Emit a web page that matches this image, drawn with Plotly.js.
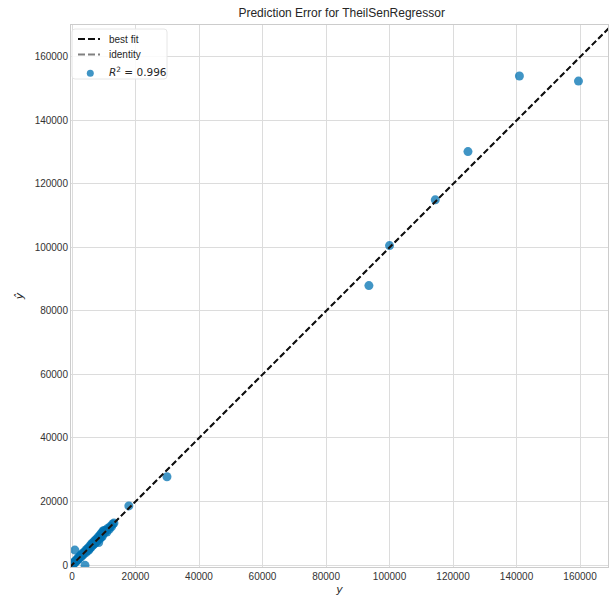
<!DOCTYPE html>
<html>
<head>
<meta charset="utf-8">
<script src="https://cdn.plot.ly/plotly-3.0.1.min.js"></script>
<style>html,body{margin:0;padding:0;background:#fff;}#chart{width:609px;height:599px;}</style>
</head>
<body>
<div id="chart"></div>
<script>
// Actual target values (y)
const yTrue = [120, 250, 400, 500, 650, 800, 900, 1000, 1100, 1300, 1500, 1600, 1800, 2000, 2100, 2300, 2500, 2700, 2900, 3000,
  3200, 3400, 3600, 3800, 4100, 4200, 4400, 4600, 4800, 5000, 5200, 5400, 5600, 5800, 6000, 6200, 6400, 6600, 6800, 7000,
  7200, 7400, 7600, 7800, 8000, 8200, 8400, 8600, 8800, 9000, 9200, 9400, 9600, 9800, 10000, 10300, 10600, 11000, 11300, 11700,
  12000, 12400, 12800, 13200, 17900, 29900, 93500, 100000, 114400, 124700, 140900, 159500];
// Predicted values (y-hat)
const yPred = [300, 150, 600, 350, 900, 700, 4700, 1200, 900, 1500, 1300, 1900, 1700, 2300, 1900, 2600, 2400, 2900, 2600, 3300,
  3100, 3700, 3300, 4000, -100, 4400, 3900, 4900, 4500, 5300, 4600, 5700, 5200, 6200, 5600, 6700, 6100, 7000, 6400, 7500,
  6800, 7900, 7200, 8200, 7600, 8800, 7100, 9100, 8300, 9700, 8700, 10200, 9100, 10600, 10900, 10100, 11000, 10400, 11600, 11200,
  12100, 12000, 12900, 13200, 18600, 27800, 88000, 100600, 115000, 130200, 154000, 152400];
// best-fit line (it coincides with the identity line)
const bestFitSlope = 1.0;
const bestFitIntercept = 0;
const legendLabels = ['best fit', 'identity', '<i>R</i><sup>2</sup> = 0.996'];
const xLimits = [-320, 168800];
const yLimits = [-630, 170070];
const xTicks = [0, 20000, 40000, 60000, 80000, 100000, 120000, 140000, 160000];
const yTicks = [0, 20000, 40000, 60000, 80000, 100000, 120000, 140000, 160000];

const lineX = [Math.min(xLimits[0], yLimits[0]), Math.max(xLimits[1], yLimits[1])];
const pointColor = '#0072B2';

const traces = [
  {
    x: yTrue, y: yPred, type: 'scatter', mode: 'markers', name: legendLabels[2], showlegend: false,
    marker: { color: pointColor, opacity: 0.75, size: 9, line: { width: 0 } }
  },
  {
    x: lineX, y: lineX, type: 'scatter', mode: 'lines', name: legendLabels[1], showlegend: false,
    line: { color: '#808080', width: 1.8, dash: '6px,3px' }
  },
  {
    x: lineX, y: lineX.map(v => bestFitSlope * v + bestFitIntercept), type: 'scatter', mode: 'lines',
    name: legendLabels[0], showlegend: false,
    line: { color: '#111111', width: 2, dash: '6px,3px' }
  }
];

const axisCommon = {
  showgrid: true, gridcolor: '#dcdcdc', gridwidth: 1, zeroline: false,
  showline: true, linecolor: '#cccccc', linewidth: 1, mirror: true,
  ticks: '', tickfont: { family: 'Liberation Sans, Arial, sans-serif', size: 10, color: '#333333' },
  tickmode: 'array'
};

// custom legend (pixel offsets from the plot's top-left corner)
const pix = { xref: 'paper', yref: 'paper', xsizemode: 'pixel', ysizemode: 'pixel', xanchor: 0, yanchor: 1 };
const legendShapes = [
  Object.assign({}, pix, { type: 'path',
    path: 'M 4,-4 L 93,-4 Q 96,-4 96,-7 L 96,-51 Q 96,-54 93,-54 L 4,-54 Q 1,-54 1,-51 L 1,-7 Q 1,-4 4,-4 Z',
    fillcolor: 'rgba(255,255,255,0.85)', line: { color: '#e6e6e6', width: 1 }, layer: 'above' }),
  Object.assign({}, pix, { type: 'line', x0: 7, x1: 29, y0: -14, y1: -14,
    line: { color: '#111111', width: 2, dash: '7px,3px' }, layer: 'above' }),
  Object.assign({}, pix, { type: 'line', x0: 7, x1: 29, y0: -29.5, y1: -29.5,
    line: { color: '#808080', width: 1.8, dash: '7px,3px' }, layer: 'above' }),
  Object.assign({}, pix, { type: 'circle', x0: 15.8, x1: 22.8, y0: -44.8, y1: -51.8,
    fillcolor: pointColor, opacity: 0.75, line: { width: 0 }, layer: 'above' })
];
const legFont = { family: 'Liberation Sans, Arial, sans-serif', size: 10, color: '#262626' };
const legendAnnotations = [
  { text: legendLabels[0], yshift: -14, font: legFont },
  { text: legendLabels[1], yshift: -29.5, font: legFont },
  { text: legendLabels[2], yshift: -46, font: { family: 'DejaVu Sans, sans-serif', size: 10.5, color: '#262626' } }
].map(a => Object.assign({ xref: 'paper', yref: 'paper', x: 0, y: 1, xshift: 36, xanchor: 'left', yanchor: 'middle',
  showarrow: false }, a));

const layout = {
  width: 609, height: 599,
  margin: { l: 71, r: 1, t: 25, b: 32, pad: 0 },
  paper_bgcolor: '#ffffff', plot_bgcolor: '#ffffff',
  title: { text: 'Prediction Error for TheilSenRegressor', x: 0.561, xanchor: 'center', y: 0.985, yanchor: 'top',
    font: { family: 'Liberation Sans, Arial, sans-serif', size: 12, color: '#262626' } },
  xaxis: Object.assign({}, axisCommon, { range: xLimits, tickvals: xTicks, ticktext: xTicks.map(String),
    title: { text: '<i>y</i>', standoff: 4, font: { family: 'DejaVu Sans, sans-serif', size: 11, color: '#262626' } } }),
  yaxis: Object.assign({}, axisCommon, { range: yLimits, tickvals: yTicks, ticktext: yTicks.map(String),
    title: { text: '<i>ŷ</i>', standoff: 8, font: { family: 'DejaVu Sans, sans-serif', size: 11, color: '#262626' } } }),
  shapes: legendShapes,
  annotations: legendAnnotations,
  showlegend: false
};

Plotly.newPlot('chart', traces, layout, { displayModeBar: false, staticPlot: true });
</script>
</body>
</html>
